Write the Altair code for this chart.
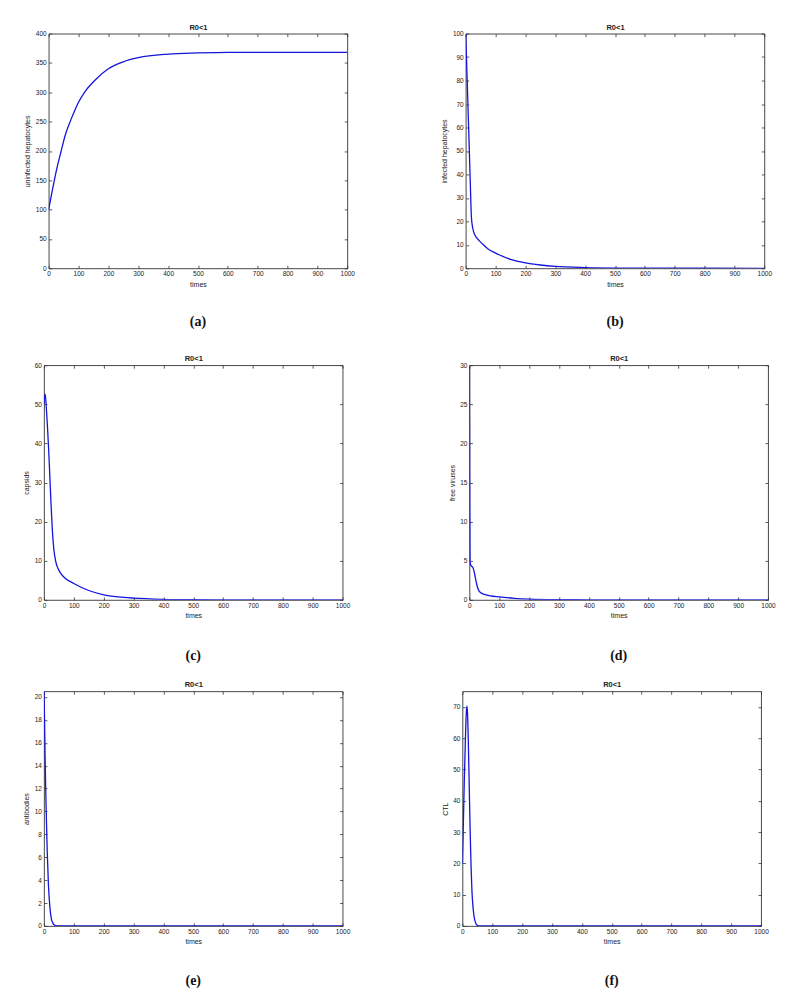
import altair as alt
import pandas as pd

# ---- data ----
t_a = [0, 10, 19, 30, 42, 55, 72, 90, 100, 120, 156, 200, 250, 300, 400, 500, 600, 800, 1000]
v_a = [100, 127, 150, 176, 200, 226, 250, 272, 283, 300, 321, 340, 352, 359, 365, 367, 368, 368, 368]

t_b = [0, 5, 10, 15, 19, 23, 28, 35, 45, 55, 75, 100, 150, 200, 250, 300, 400, 500, 600, 1000]
v_b = [100, 80, 59, 38, 22, 17.5, 15, 13.3, 11.8, 10.5, 8.2, 6.5, 3.8, 2.3, 1.4, 0.8, 0.3, 0.1, 0.04, 0]

t_c = [0, 2, 4.5, 8, 12, 16, 20, 24, 28, 33, 39, 47, 55, 70, 100, 150, 200, 250, 300, 400, 500, 700, 1000]
v_c = [50, 52, 52.5, 49, 44, 38, 31, 24, 18, 13, 10, 8, 6.9, 5.6, 4.2, 2.4, 1.3, 0.75, 0.45, 0.15, 0.05, 0.01, 0]

t_d = [0, 1, 2, 4, 8, 12, 16, 20, 25, 30, 38, 50, 70, 100, 150, 200, 300, 400, 1000]
v_d = [30, 14, 5, 4.5, 4.3, 4.1, 3.6, 2.8, 1.9, 1.3, 0.9, 0.7, 0.5, 0.38, 0.2, 0.1, 0.03, 0.01, 0]

t_e = [0, 2, 4, 6, 8, 11, 15, 20, 25, 30, 35, 45, 60, 1000]
v_e = [20.5, 18, 14.5, 11.8, 9.5, 6.5, 3.6, 1.6, 0.6, 0.25, 0.08, 0.01, 0, 0]

t_f = [0, 3, 6, 9, 12, 15, 17, 20, 23, 26, 29, 32, 36, 40, 45, 50, 60, 1000]
v_f = [20, 32, 45, 56, 66, 70.3, 68, 58, 44, 30, 19, 11, 5.5, 2.5, 0.8, 0.2, 0.01, 0]

x_ticks = list(range(0, 1001, 100))
panel_title = "R0<1"

LINE = "#1414dc"
AX = "#333333"
FONT = "Liberation Sans"
W, H = 299, 235


def panel(t, v, ylab, ydom, yticks, cap, cap_offset=28):
    df = pd.DataFrame({"t": t, "v": v})
    xs = alt.Scale(domain=[0, 1000], nice=False)
    ys = alt.Scale(domain=ydom, nice=False)
    common = dict(offset=-3, tickSize=3, tickColor=AX, tickWidth=0.8, domain=False,
                  grid=False, labelFont=FONT, labelFontSize=6.5, labelColor="#222",
                  titleFont=FONT, titleFontSize=7, titleColor="#222",
                  labelFlush=False, labelOverlap=False, format="d")
    main = alt.Chart(df).mark_line(color=LINE, strokeWidth=1.3,
                                   interpolate="monotone", clip=True).encode(
        x=alt.X("t:Q", scale=xs, axis=alt.Axis(orient="bottom", values=x_ticks,
                                               title="times", labelPadding=2.5,
                                               titlePadding=3, titleFontWeight="normal",
                                               **common)),
        y=alt.Y("v:Q", scale=ys, axis=alt.Axis(orient="left", values=yticks,
                                               title=ylab, labelPadding=2.5,
                                               titlePadding=4.5, titleFontWeight="normal",
                                               **common)),
    )
    over = alt.Chart(df).mark_line(opacity=0).encode(
        x=alt.X("t:Q", scale=xs, axis=alt.Axis(orient="top", values=x_ticks,
                                               labels=False, title=panel_title,
                                               titleFontWeight="bold",
                                               titlePadding=2,
                                               **{k: val for k, val in common.items()
                                                  if k != "titleFontSize"},
                                               titleFontSize=7.5)),
        y=alt.Y("v:Q", scale=ys, axis=alt.Axis(orient="right", values=yticks,
                                               labels=False, title=None,
                                               **common)),
    )
    return alt.layer(main, over).resolve_axis(x="independent", y="independent").properties(
        width=W, height=H,
        title=alt.TitleParams(cap, orient="bottom", frame="group", anchor="middle",
                              font="Liberation Serif", fontSize=14, fontWeight="bold",
                              color="#111", offset=cap_offset),
    )


pa = panel(t_a, v_a, "uninfected hepatocytes", [0, 400], list(range(0, 401, 50)), "(a)")
pb = panel(t_b, v_b, "infected hepatocytes", [0, 100], list(range(0, 101, 10)), "(b)")
pc = panel(t_c, v_c, "capsids", [0, 60], list(range(0, 61, 10)), "(c)", 30)
pd_ = panel(t_d, v_d, "free viruses", [0, 30], list(range(0, 31, 5)), "(d)", 30)
pe = panel(t_e, v_e, "antibodies", [0, 20.5], list(range(0, 21, 2)), "(e)", 29)
pf = panel(t_f, v_f, "CTL", [0, 75], list(range(0, 71, 10)), "(f)", 29)

spacer = alt.Chart(pd.DataFrame({"z": [0]})).mark_text(text="").properties(
    width=1, height=1, view=alt.ViewBackground(stroke=None))

row1 = alt.hconcat(spacer, alt.hconcat(pa, pb, spacing=118.6, bounds="flush"),
                   spacing=3.7, bounds="flush")
row2 = alt.hconcat(pc, pd_, spacing=127, bounds="flush")
row3 = alt.hconcat(pe, pf, spacing=120, bounds="flush")

chart = alt.vconcat(
    row1,
    alt.vconcat(row2, row3, spacing=16.5),
    spacing=24,
).properties(
    padding={"left": 14, "top": 14, "right": 5, "bottom": 5},
    background="white",
).configure_view(stroke=AX, strokeWidth=0.9)

chart.save("out.html", embed_options={"renderer": "svg", "actions": False})
